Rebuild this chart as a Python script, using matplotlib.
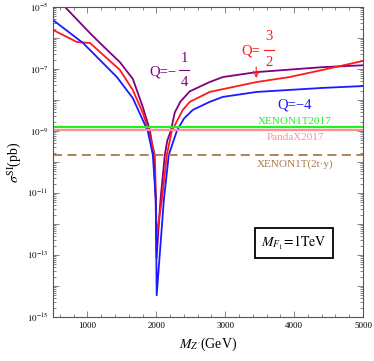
import numpy as np
import matplotlib
matplotlib.use("Agg")
import matplotlib.pyplot as plt
from matplotlib.ticker import FixedLocator, NullFormatter, FuncFormatter, LogLocator

plt.rcParams['font.family'] = ['Liberation Serif', 'DejaVu Serif']
plt.rcParams['mathtext.fontset'] = 'stix'

# Q = -4 (blue)
m_blue = [500, 700, 935, 1181, 1427, 1659, 1804, 1876, 1949, 1993, 2005, 2109, 2181, 2297, 2400, 2529, 2775, 2965, 3456, 4413, 5000]
log_blue = [-5.42, -5.76, -6.16, -6.71, -7.26, -7.94, -8.65, -9.0, -9.77, -11.23, -14.3, -11.23, -9.77, -9.0, -8.6, -8.32, -8.06, -7.9, -7.74, -7.61, -7.55]

# Q = 3/2 (red)
m_red = [500, 848, 1036, 1181, 1471, 1659, 1804, 1891, 1978, 1995, 2003, 2080, 2152, 2225, 2384, 2485, 2775, 2965, 3456, 3934, 4413, 5000]
log_red = [-5.74, -6.13, -6.16, -6.45, -7.03, -7.68, -8.42, -9.0, -9.77, -11.23, -12.4, -11.23, -9.77, -9.0, -8.32, -8.06, -7.74, -7.65, -7.42, -7.26, -7.03, -6.74]

# Q = -1/4 (purple)
m_purple = [500, 674, 1036, 1181, 1471, 1659, 1804, 1906, 1964, 1990, 2003, 2060, 2123, 2160, 2210, 2268, 2350, 2486, 2775, 2965, 3456, 4413, 5000]
log_purple = [-4.6, -5.0, -5.84, -6.16, -6.78, -7.32, -8.23, -8.97, -9.77, -11.23, -13.1, -11.23, -9.77, -9.3, -9.0, -8.4, -8.05, -7.72, -7.42, -7.26, -7.10, -6.94, -6.88]

# experimental limits (pb)
xenon1t2017 = 1.35e-9
pandax2017 = 1.05e-9
xenon1t_2ty = 1.7e-10

fig = plt.figure(figsize=(3.74, 3.61), dpi=100)
ax = fig.add_axes([53/374, 44/361, 310/374, 310/361])

lw = 1.3
ax.plot(m_purple, 10**np.array(log_purple), color='#800080', lw=lw)
ax.plot(m_red, 10**np.array(log_red), color='#ff1a1a', lw=lw)
ax.plot(m_blue, 10**np.array(log_blue), color='#1a1aff', lw=lw)
ax.axhline(pandax2017, color='#ff9090', lw=1.6)
ax.axhline(xenon1t2017, color='#22ee22', lw=1.6)
ax.axhline(xenon1t_2ty, color='#a87a4a', lw=1.3, dashes=(5, 3))

ax.set_yscale('log')
ax.set_xlim(500, 5000)
ax.set_ylim(1e-15, 1e-5)

ax.xaxis.set_major_locator(FixedLocator([1000, 2000, 3000, 4000, 5000]))
ax.xaxis.set_minor_locator(FixedLocator(np.arange(600, 5000, 200)))
ax.yaxis.set_major_locator(FixedLocator([10.0**k for k in range(-15, -4)]))
ax.yaxis.set_minor_locator(LogLocator(base=10, subs=np.arange(2, 10), numticks=30))
ax.yaxis.set_minor_formatter(NullFormatter())

def yfmt(v, pos):
    e = int(round(np.log10(v)))
    if e % 2 == 0:
        return ''
    return r'$10^{%d}$' % e
ax.yaxis.set_major_formatter(FuncFormatter(yfmt))

ax.tick_params(which='both', direction='in', top=True, right=True, labelsize=6.5, colors='#555555', labelcolor='black', width=0.5)
ax.tick_params(which='major', length=4)
ax.tick_params(which='minor', length=2)
for s in ax.spines.values():
    s.set_color('#555555')
    s.set_linewidth(0.8)

ax.set_xlabel(r"$M_{Z^{\prime}}$(GeV)", fontsize=10)
ax.set_ylabel(r"$\sigma^{\mathrm{SI}}$(pb)", fontsize=10, labelpad=2)

fs = 10.5
def px(xp, yp):
    return ((xp - 53) / 310, (317 - yp) / 310)

kw = dict(fontsize=fs, ha='center', va='center', transform=ax.transAxes)
ax.text(*px(163, 72), 'Q=\u2212', color='#800080', **kw)
ax.text(*px(184, 58), '1', color='#800080', **kw)
ax.text(*px(184, 82), '4', color='#800080', **kw)
ax.plot([px(179, 0)[0], px(189, 0)[0]], [px(0, 69.5)[1]] * 2, color='#800080', lw=0.8, transform=ax.transAxes)

ax.text(*px(251, 51), 'Q=', color='#ff1a1a', **kw)
ax.text(*px(269, 36), '3', color='#ff1a1a', **kw)
ax.text(*px(269, 62), '2', color='#ff1a1a', **kw)
ax.plot([px(264, 0)[0], px(274, 0)[0]], [px(0, 50)[1]] * 2, color='#ff1a1a', lw=0.8, transform=ax.transAxes)
ax.annotate('', xy=(3450, 10**-7.38), xytext=(3450, 10**-6.85),
            arrowprops=dict(arrowstyle='->', color='#ff1a1a', lw=0.8))

ax.text(*px(295, 105), 'Q=\u22124', color='#1a1aff', **kw)

kw2 = dict(fontsize=8, ha='center', va='center', transform=ax.transAxes)
ax.text(*px(295, 122), 'XENON1T2017', color='#22ee22', **kw2)
ax.text(*px(295, 137.5), 'PandaX2017', color='#ff9090', **kw2)
ax.text(*px(295, 164), 'XENON1T(2t\u00b7y)', color='#a87a4a', **kw2)

ax.text(*px(294, 243), r'$M_{F_1}\!=\!1\mathrm{TeV}$', fontsize=10, ha='center', va='center', transform=ax.transAxes,
        bbox=dict(boxstyle='square,pad=0.45', fc='white', ec='black', lw=1.3))

fig.savefig('out.png', dpi=100)
